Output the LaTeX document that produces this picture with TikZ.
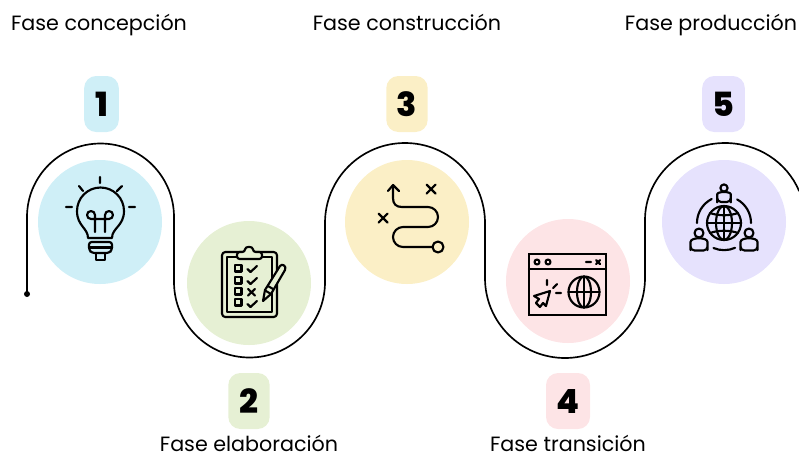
\documentclass[tikz,border=0pt]{standalone}
\usepackage{fontspec}
\setmainfont{Poppins}[BoldFont={Poppins ExtraBold}]
\definecolor{bluetint}{HTML}{CFEFF7}
\definecolor{greentint}{HTML}{E6F0D4}
\definecolor{yellowtint}{HTML}{FBEFC6}
\definecolor{pinktint}{HTML}{FDE4E6}
\definecolor{violettint}{HTML}{E6E2FD}
\tikzset{
  disc/.style={circle, inner sep=0pt, minimum size=93pt},
  badge/.style={rounded corners=9pt, inner sep=0pt, minimum height=42pt, font=\fontsize{25}{25}\selectfont\bfseries},
  phase/.style={inner sep=0pt, anchor=base, font=\fontsize{15.5}{18}\selectfont},
  trail/.style={line width=1.25pt, black},
  icon/.style={line width=1.6pt, black, line cap=round, line join=round}
}
\begin{document}
\begin{tikzpicture}[x=0.75pt, y=-0.75pt]
  \useasboundingbox (0,0) rectangle (799,454);

  % Draw discs
  \node[disc, fill=bluetint] (disc1) at (100,222) {};
  \node[disc, fill=greentint] (disc2) at (249,283) {};
  \node[disc, fill=yellowtint] (disc3) at (407,222) {};
  \node[disc, fill=pinktint] (disc4) at (568,281) {};
  \node[disc, fill=violettint] (disc5) at (724,222) {};

  % Draw number badges
  \node[badge, fill=bluetint, minimum width=26pt] (num1) at (101.5,104) {1};
  \node[badge, fill=greentint, minimum width=31pt] (num2) at (249,401) {2};
  \node[badge, fill=yellowtint, minimum width=31pt] (num3) at (407,104) {3};
  \node[badge, fill=pinktint, minimum width=33pt] (num4) at (568,401) {4};
  \node[badge, fill=violettint, minimum width=32pt] (num5) at (723.5,104) {5};

  % Draw phase names
  \node[phase] (name1) at (99,30) {Fase concepción};
  \node[phase] (name2) at (249,451) {Fase elaboración};
  \node[phase] (name3) at (407,30) {Fase construcción};
  \node[phase] (name4) at (568,451) {Fase transición};
  \node[phase] (name5) at (711,30) {Fase producción};

  % Draw winding line
  \node[circle, fill=black, inner sep=0pt, minimum size=4.5pt] (start) at (27,294) {};
  \draw[trail] (start.center) -- (27,217)
    arc[start angle=180, end angle=360, radius=73.5] -- (174,282)
    arc[start angle=180, end angle=0, radius=75.5] -- (325,223)
    arc[start angle=180, end angle=360, radius=80] -- (485,278)
    arc[start angle=180, end angle=0, radius=80] -- (645,220)
    arc[start angle=180, end angle=338, x radius=80, y radius=77];

  % Bulb
  \begin{scope}[icon]
    \draw (88,238) .. controls (88,228) and (77,226) .. (77,211)
      arc[start angle=180, end angle=360, radius=23.5]
      .. controls (124,226) and (112,228) .. (112,238) -- cycle;
    \draw[rounded corners=2pt] (89,242) -- (89,250) -- (92,253) -- (109,253) -- (112,250) -- (112,242) -- cycle;
    \draw (89,247.5) -- (112,247.5);
    \draw (96,254) -- (96,260) -- (105,260) -- (105,254);
    \draw (95,232) -- (95,215) arc[start angle=0, end angle=-270, radius=4] -- (105,219)
      (105,232) -- (105,215) arc[start angle=180, end angle=450, radius=4] -- (95,219);
    \draw (100,177) -- (100,183) (66,207) -- (72,207) (129,207) -- (135,207)
      (79,186) -- (83,191) (122,186) -- (117,191);
  \end{scope}

  % Clipboard
  \begin{scope}[icon]
    \draw[rounded corners=2.5pt] (222,252) rectangle (277,317);
    \draw (227,257) rectangle (272,312);
    \draw[fill=greentint, rounded corners=2pt] (237,259) -- (237,252) -- (245,252)
      .. controls (245,246) and (253,246) .. (253,252) -- (262,252) -- (262,259) -- cycle;
    \foreach \ypos in {265,277,288,299} {
      \draw (235,\ypos) rectangle (241.5,\ypos+6.5);
    }
    \foreach \ypos in {269,281,304} {
      \draw (247.5,\ypos) -- (250.5,\ypos+3) -- (257,\ypos-3);
    }
    \draw (248,289) -- (255,295.5) (255,289) -- (248,295.5);
    \draw[fill=greentint] (263,301) -- (265,290) -- (280,266) .. controls (282,263) and (287,266) .. (285,270)
      -- (271,294) -- cycle;
    \draw (266,291) -- (271,294) (268,286) -- (273,289);
  \end{scope}

  % Route
  \begin{scope}[icon]
    \draw (393,186) -- (393,198) .. controls (393,204) and (396,207) .. (402,207) -- (428,207)
      arc[start angle=270, end angle=450, radius=10] -- (403,227)
      arc[start angle=270, end angle=90, radius=10] -- (432,247);
    \draw (388,191) -- (393,185) -- (399,191);
    \draw (438,247) circle[radius=5.5];
    \foreach \xpos/\ypos in {431/189,383/218} {
      \draw (\xpos-4.5,\ypos-4.5) -- (\xpos+4.5,\ypos+4.5) (\xpos-4.5,\ypos+4.5) -- (\xpos+4.5,\ypos-4.5);
    }
  \end{scope}

  % Browser window
  \begin{scope}[icon]
    \draw[line cap=butt, line join=miter] (529,254) rectangle (606,315);
    \draw (529,269) -- (606,269);
    \draw (537,262) circle[radius=2.5] (548,262) circle[radius=2.5];
    \draw (586,262) -- (591,262) (596,260) -- (600,264) (600,260) -- (596,264);
    \draw (584,292) circle[radius=15.5];
    \draw (584,292) ellipse[x radius=7, y radius=15.5];
    \draw (584,276.5) -- (584,307.5) (568.5,292) -- (599.5,292);
    \draw (550,291) -- (534,296) -- (539,299) -- (536,303) -- (540,307) -- (543,303) -- (546,306) -- cycle;
    \draw (547,280) -- (547,285) (553,288) -- (557,284) (556,293) -- (561,293);
  \end{scope}

  % Globe and people
  \begin{scope}[icon]
    \draw (724,223) circle[radius=17];
    \draw (724,223) ellipse[x radius=8, y radius=17];
    \draw (724,206) -- (724,240) (707,223) -- (741,223);
    \draw (710,213) .. controls (718,216) and (730,216) .. (738,213);
    \draw (710,233) .. controls (718,230) and (730,230) .. (738,233);
    \draw (711.7,199) arc[start angle=243, end angle=180, radius=27];
    \draw (737.1,199.4) arc[start angle=299, end angle=360, radius=27];
    \draw (713.5,248) arc[start angle=113, end angle=66, radius=27];
    \foreach \xpos/\ypos/\size in {724/188/0.8,699/233/1,749/233/1} {
      \begin{scope}[shift={(\xpos,\ypos)}, scale=\size]
        \draw[rounded corners=3pt] (-8.5,17.5) -- (-8.5,13) .. controls (-8.5,4) and (8.5,4) .. (8.5,13) -- (8.5,17.5) -- cycle;
        \draw[fill=violettint] (0,0) circle[radius=4.5];
      \end{scope}
    }
  \end{scope}
\end{tikzpicture}
\end{document}
